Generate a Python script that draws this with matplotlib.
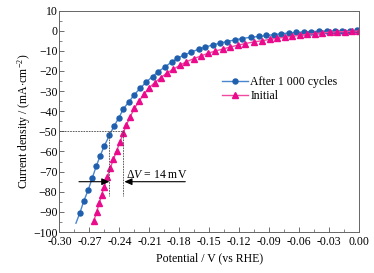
import matplotlib
matplotlib.use("Agg")
import matplotlib.pyplot as plt
from matplotlib.ticker import MultipleLocator, FormatStrFormatter

plt.rcParams['font.family'] = ['Liberation Serif', 'DejaVu Serif']
plt.rcParams['mathtext.fontset'] = 'custom'
plt.rcParams['mathtext.rm'] = 'Liberation Serif'
plt.rcParams['mathtext.it'] = 'Liberation Serif:italic'
plt.rcParams['axes.unicode_minus'] = True

# After 1 000 cycles (blue); first point is the line end without marker
after_x = [-0.2835, -0.2795, -0.2755, -0.2712, -0.2672, -0.2632, -0.2592, -0.2550, -0.2500,
           -0.2455, -0.2405, -0.2360, -0.2302, -0.2252, -0.2190, -0.2130, -0.2068,
           -0.2010, -0.1945, -0.1878, -0.1818, -0.1752, -0.1678, -0.1605, -0.1538,
           -0.1462, -0.1395, -0.1322, -0.1245, -0.1172, -0.1085, -0.1005, -0.0928,
           -0.0855, -0.0778, -0.0702, -0.0628, -0.0552, -0.0478, -0.0402, -0.0322,
           -0.0245, -0.0168, -0.0095, -0.0022]
after_y = [-95.6, -90.4, -84.4, -79.1, -73.2, -67.4, -62.1, -57.1, -52.0,
           -47.5, -43.3, -38.8, -35.2, -31.9, -28.5, -25.5, -22.8,
           -20.3, -18.1, -15.6, -13.7, -12.1, -10.6, -9.2, -8.1,
           -7.1, -6.2, -5.4, -4.6, -3.9, -3.3, -2.9, -2.4,
           -2.0, -1.5, -1.2, -0.9, -0.6, -0.5, -0.3, -0.2,
           -0.2, -0.1, -0.1, 0.1]

# Initial (pink)
init_x = [-0.2655, -0.2628, -0.2602, -0.2578, -0.2552, -0.2522, -0.2492, -0.2460,
          -0.2428, -0.2395, -0.2362, -0.2330, -0.2292, -0.2250, -0.2200, -0.2150,
          -0.2102, -0.2045, -0.1985, -0.1928, -0.1862, -0.1795, -0.1728, -0.1655,
          -0.1585, -0.1512, -0.1438, -0.1362, -0.1288, -0.1212, -0.1138, -0.1055,
          -0.0968, -0.0895, -0.0822, -0.0745, -0.0668, -0.0595, -0.0522, -0.0445,
          -0.0368, -0.0295, -0.0222, -0.0145, -0.0072, 0.0]
init_y = [-94.3, -90.0, -85.7, -81.5, -77.4, -72.8, -68.3, -63.9,
          -59.7, -55.4, -51.0, -46.8, -42.8, -38.6, -34.7, -31.3,
          -28.3, -25.8, -23.3, -21.2, -19.2, -17.2, -15.4, -13.9,
          -12.6, -11.2, -10.1, -9.1, -8.1, -7.2, -6.4, -5.6,
          -5.0, -4.3, -3.8, -3.3, -2.8, -2.3, -1.8, -1.5,
          -1.1, -0.8, -0.6, -0.5, -0.3, -0.2]

labels = ["After 1 000 cycles", "Initial"]
dv_left, dv_right, j_ref = -0.250, -0.236, -50
x_ticks_fmt = "%.2f"

fig = plt.figure(figsize=(3.74, 2.73), dpi=100)
ax = fig.add_axes([0.159, 0.150, 0.801, 0.8115])

ax.plot(after_x, after_y, '-', color='#4a86cf', lw=1.0, marker='o', ms=3.6,
        mfc='#1f5fae', mec='#1f5fae', markevery=list(range(1, len(after_x))),
        label=labels[0])
ax.plot(init_x, init_y, '-', color='#f04aa0', lw=1.0, marker='^', ms=4.0,
        mfc='#ea0a8c', mec='#ea0a8c', label=labels[1])

dcol = '#444444'
ax.plot([-0.30, dv_right], [j_ref, j_ref], ls=(0, (2, 1.2)), color=dcol, lw=0.6)
ax.plot([dv_left, dv_left], [j_ref, -82], ls=(0, (2, 1.2)), color=dcol, lw=0.6)
ax.plot([dv_right, dv_right], [j_ref, -82], ls=(0, (2, 1.2)), color=dcol, lw=0.6)

ap = dict(arrowstyle='-|>,head_length=0.45,head_width=0.2', color='black', lw=0.8,
          shrinkA=0, shrinkB=0)
ax.annotate('', xy=(dv_left, -75), xytext=(-0.2805, -75), arrowprops=ap)
ax.annotate('', xy=(dv_right + 0.001, -75), xytext=(-0.174, -75), arrowprops=ap)
ax.text(-0.2025, -71.5, r'$\Delta V$ = 14 mV', ha='center', va='center', fontsize=8.5)

ax.set_xlim(-0.30, 0.0)
ax.set_ylim(-100, 10)
ax.xaxis.set_major_locator(MultipleLocator(0.03))
ax.xaxis.set_minor_locator(MultipleLocator(0.015))
ax.xaxis.set_major_formatter(FormatStrFormatter(x_ticks_fmt))
ax.yaxis.set_major_locator(MultipleLocator(10))
ax.yaxis.set_minor_locator(MultipleLocator(5))
ax.tick_params(which='both', direction='in', top=False, right=False,
               labelsize=8.5, color='#555555')
ax.tick_params(axis='x', pad=2.5)
ax.tick_params(axis='y', pad=1.5)
ax.tick_params(which='major', length=3.5, width=0.6)
ax.tick_params(which='minor', length=2, width=0.5)
for s in ax.spines.values():
    s.set_color('#666666')
    s.set_linewidth(0.7)

ax.set_xlabel('Potential / V (vs RHE)', fontsize=8.5, va='top')
ax.set_ylabel('Current density / (mA$\\cdot$cm$^{-2}$)', fontsize=8.5)
ax.xaxis.set_label_coords(0.5, -0.093)
ax.yaxis.set_label_coords(-0.088, 0.5)

ax.legend(loc='upper left', bbox_to_anchor=(0.541, 0.705), frameon=False,
          fontsize=8.5, handlelength=2.2, handletextpad=0.25, labelspacing=0.2,
          borderaxespad=0, borderpad=0)

fig.savefig('out.png', dpi=100, facecolor='white')
